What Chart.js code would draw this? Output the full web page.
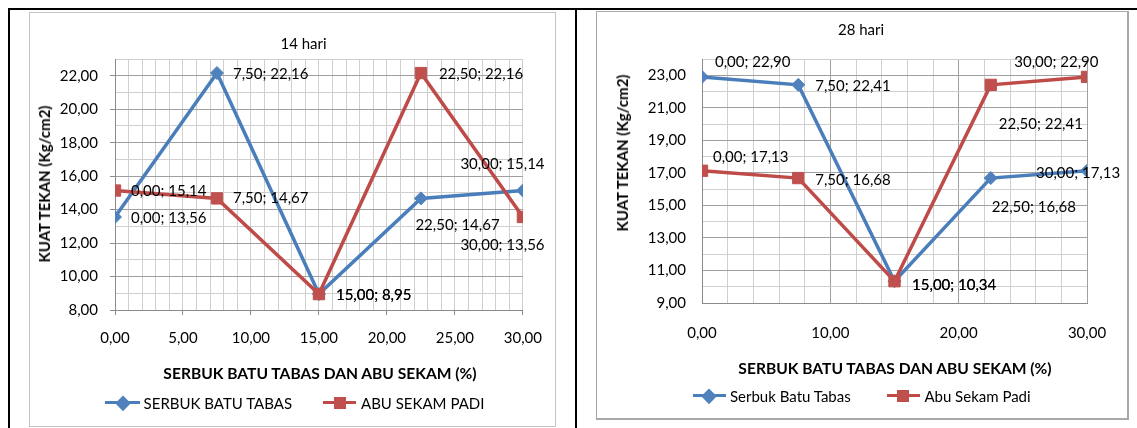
<!DOCTYPE html>
<html>
<head>
<meta charset="utf-8">
<script src="https://cdn.jsdelivr.net/npm/chart.js@4.4.1/dist/chart.umd.min.js"></script>
<style>
  html, body { margin: 0; padding: 0; background: #fff; }
  body { position: relative; width: 1137px; height: 428px; overflow: hidden; font-family: Lato, "Open Sans", sans-serif; color: #000; }
  .rule { position: absolute; background: #000; }
  .box { position: absolute; box-sizing: border-box; background: #fff; }
  canvas { position: absolute; }
  .txt { position: absolute; white-space: nowrap; font-size: 15px; line-height: 18px; transform: translate(-50%, -50%); }
  .bold { font-weight: bold; }
  .xtitle { font-size: 15.6px; }
  .rot { transform: translate(-50%, -50%) rotate(-90deg); }
  .leg-line { position: absolute; height: 3.5px; }
  .leg-text { position: absolute; white-space: nowrap; font-size: 15px; line-height: 18px; transform: translateY(-50%); }
  .diamond { position: absolute; width: 10.5px; height: 10.5px; transform: translate(-50%, -50%) rotate(45deg); }
  .square { position: absolute; width: 12px; height: 12px; transform: translate(-50%, -50%); }
</style>
</head>
<body>
<!-- table frame -->
<div class="rule" style="left:8px; top:8px; width:1129px; height:2px;"></div>
<div class="rule" style="left:8px; top:8px; width:2px; height:420px;"></div>
<div class="rule" style="left:575px; top:8px; width:2px; height:420px;"></div>

<!-- chart boxes -->
<div class="box" style="left:29px; top:12px; width:527px; height:415px; border:1px solid #c4c4c4;"></div>
<div class="box" style="left:596px; top:11px; width:533px; height:409px; border:1px solid #a8a8a8; border-right-width:2px; border-bottom-width:2px;"></div>

<canvas id="chart14" width="527" height="414" style="left:29px; top:12px;"></canvas>
<canvas id="chart28" width="531" height="407" style="left:597px; top:11px;"></canvas>

<!-- 14 hari texts -->
<div class="txt" style="left:303.5px; top:43px;">14 hari</div>
<div class="txt bold rot" style="left:44px; top:184px;">KUAT TEKAN (Kg/cm2)</div>
<div class="txt bold xtitle" style="left:320px; top:372.7px;">SERBUK BATU TABAS DAN ABU SEKAM (%)</div>
<div id="legend14"></div>

<!-- 28 hari texts -->
<div class="txt" style="left:861px; top:29.3px;">28 hari</div>
<div class="txt bold rot" style="left:622px; top:153px;">KUAT TEKAN (Kg/cm2)</div>
<div class="txt bold xtitle" style="left:895px; top:367.7px;">SERBUK BATU TABAS DAN ABU SEKAM (%)</div>
<div id="legend28"></div>

<script>
// Kadar bahan pengganti (%)
const PERSEN = [0, 7.5, 15, 22.5, 30];

// Kuat tekan umur 14 hari (Kg/cm2)
const BATU_14 = [13.56, 22.16, 8.95, 14.67, 15.14];
const SEKAM_14 = [15.14, 14.67, 8.95, 22.16, 13.56];

// Kuat tekan umur 28 hari (Kg/cm2)
const BATU_28 = [22.90, 22.41, 10.34, 16.68, 17.13];
const SEKAM_28 = [17.13, 16.68, 10.34, 22.41, 22.90];

// Labelled tick values
const X_LABELS_14 = [0, 5, 10, 15, 20, 25, 30];
const Y_LABELS_14 = [8, 10, 12, 14, 16, 18, 20, 22];
const X_LABELS_28 = [0, 10, 20, 30];
const Y_LABELS_28 = [9, 11, 13, 15, 17, 19, 21, 23];

const SERIES_NAMES_14 = ['SERBUK BATU TABAS', 'ABU SEKAM PADI'];
const SERIES_NAMES_28 = ['Serbuk Batu Tabas', 'Abu Sekam Padi'];

const BLUE = '#4F81BD', BLUE_LINE = '#4A7EBB';
const RED = '#C0504D', RED_LINE = '#BE4B48';
const GRID_MAJOR = '#a0a0a0', GRID_MINOR = '#cfcfcf', AXIS = '#8a8a8a';
const FONT = { family: 'Lato', size: 15 };

const fmt = v => Number(v).toFixed(2).replace('.', ',');
const has = (arr, v) => arr.some(a => Math.abs(a - v) < 1e-9);

// "x; y" value labels next to each point
const pointLabels = {
  id: 'pointLabels',
  afterDatasetsDraw(chart, args, opts) {
    const ctx = chart.ctx;
    ctx.save();
    ctx.font = '15px Lato';
    ctx.fillStyle = '#000';
    ctx.textAlign = 'left';
    ctx.textBaseline = 'middle';
    chart.data.datasets.forEach((ds, i) => {
      const meta = chart.getDatasetMeta(i);
      meta.data.forEach((pt, j) => {
        const d = ds.data[j];
        const o = opts.offsets[i][j];
        ctx.fillText(fmt(d.x) + '; ' + fmt(d.y), pt.x + o[0], pt.y + o[1]);
      });
    });
    ctx.restore();
  }
};

function makeChart(id, c) {
  return new Chart(document.getElementById(id), {
    type: 'scatter',
    data: {
      datasets: [
        {
          label: c.names[0],
          data: PERSEN.map((x, i) => ({ x, y: c.batu[i] })),
          showLine: true,
          borderColor: BLUE_LINE,
          borderWidth: 3.5,
          backgroundColor: BLUE,
          pointStyle: 'rectRot',
          pointRadius: 6.5,
          pointBorderWidth: 1,
          pointBorderColor: BLUE,
          order: 1
        },
        {
          label: c.names[1],
          data: PERSEN.map((x, i) => ({ x, y: c.sekam[i] })),
          showLine: true,
          borderColor: RED_LINE,
          borderWidth: 3.5,
          backgroundColor: RED,
          pointStyle: 'rect',
          pointRadius: 8,
          pointBorderWidth: 1,
          pointBorderColor: RED,
          order: 0
        }
      ]
    },
    options: {
      responsive: false,
      animation: false,
      events: [],
      layout: { padding: c.padding },
      plugins: {
        legend: { display: false },
        tooltip: { enabled: false },
        title: { display: false },
        pointLabels: { offsets: c.offsets }
      },
      scales: {
        x: {
          type: 'linear',
          min: c.xMin, max: c.xMax,
          afterFit: s => { s.height = c.xAxisHeight; },
          ticks: {
            stepSize: c.xStep, autoSkip: false, maxRotation: 0,
            padding: c.xPad, color: '#000', font: FONT,
            callback: v => has(c.xLabels, v) ? fmt(v) : ''
          },
          grid: {
            lineWidth: 1,
            drawTicks: true,
            tickLength: c.tickLen,
            color: ctx => (ctx.tick && c.xMajor(ctx.tick.value)) ? GRID_MAJOR : GRID_MINOR,
            tickColor: ctx => (c.tickLen > 0 && ctx.tick && has(c.xLabels, ctx.tick.value)) ? AXIS : 'rgba(0,0,0,0)'
          },
          border: { color: AXIS, width: 1 }
        },
        y: {
          type: 'linear',
          min: c.yMin, max: c.yMax,
          afterFit: s => { s.width = c.yAxisWidth; },
          ticks: {
            stepSize: 1, autoSkip: false,
            padding: c.yPad, color: '#000', font: FONT,
            callback: v => has(c.yLabels, v) ? fmt(v) : ''
          },
          grid: {
            lineWidth: 1,
            drawTicks: true,
            tickLength: c.tickLen,
            color: ctx => (ctx.tick && has(c.yLabels, ctx.tick.value)) ? GRID_MAJOR : GRID_MINOR,
            tickColor: ctx => (c.tickLen > 0 && ctx.tick && has(c.yLabels, ctx.tick.value)) ? AXIS : 'rgba(0,0,0,0)'
          },
          border: { color: AXIS, width: 1 }
        }
      }
    },
    plugins: [pointLabels]
  });
}

makeChart('chart14', {
  names: SERIES_NAMES_14, batu: BATU_14, sekam: SEKAM_14,
  xMin: 0, xMax: 30, xStep: 1, yMin: 8, yMax: 23,
  xLabels: X_LABELS_14, yLabels: Y_LABELS_14,
  xMajor: () => false,
  padding: { top: 47, right: 31, left: 0, bottom: 0 },
  yAxisWidth: 86, xAxisHeight: 116,
  tickLen: 5, xPad: 14, yPad: 12,
  offsets: [
    [[16, 1], [16, 1], [17, 1.5], [-5.5, 27], [-62.5, -26]],
    [[16, 1], [16, 0], [17, 1.5], [18, 1], [-62.5, 28]]
  ]
});

makeChart('chart28', {
  names: SERIES_NAMES_28, batu: BATU_28, sekam: SEKAM_28,
  xMin: 0, xMax: 30, xStep: 2, yMin: 9, yMax: 24,
  xLabels: X_LABELS_28, yLabels: Y_LABELS_28,
  xMajor: v => has(X_LABELS_28, v),
  padding: { top: 48, right: 41, left: 0, bottom: 0 },
  yAxisWidth: 105, xAxisHeight: 115,
  tickLen: 0, xPad: 21, yPad: 16,
  offsets: [
    [[13, -15], [17, 1.5], [17.6, 3.5], [1, 29], [-51, 2]],
    [[11, -14], [17, 2], [17.6, 3.5], [8, 39.5], [-72.7, -15]]
  ]
});

// Legends: line with series marker, then series name
function legend(hostId, y, items) {
  const host = document.getElementById(hostId);
  items.forEach(it => {
    const line = document.createElement('div');
    line.className = 'leg-line';
    line.style.left = it.x1 + 'px';
    line.style.width = (it.x2 - it.x1) + 'px';
    line.style.top = (y - 1.75) + 'px';
    line.style.background = it.line;
    host.appendChild(line);
    const mk = document.createElement('div');
    mk.className = it.shape;
    mk.style.left = it.mx + 'px';
    mk.style.top = y + 'px';
    mk.style.background = it.fill;
    host.appendChild(mk);
    const tx = document.createElement('div');
    tx.className = 'leg-text';
    tx.style.left = it.tx + 'px';
    tx.style.top = y + 'px';
    tx.textContent = it.name;
    host.appendChild(tx);
  });
}

legend('legend14', 402.7, [
  { name: SERIES_NAMES_14[0], x1: 105, x2: 140, mx: 122.5, tx: 143.6, line: BLUE_LINE, fill: BLUE, shape: 'diamond' },
  { name: SERIES_NAMES_14[1], x1: 323, x2: 356, mx: 340, tx: 361, line: RED_LINE, fill: RED, shape: 'square' }
]);
legend('legend28', 395.7, [
  { name: SERIES_NAMES_28[0], x1: 693, x2: 725.5, mx: 709, tx: 730, line: BLUE_LINE, fill: BLUE, shape: 'diamond' },
  { name: SERIES_NAMES_28[1], x1: 886.8, x2: 920, mx: 903.4, tx: 924.4, line: RED_LINE, fill: RED, shape: 'square' }
]);
</script>
</body>
</html>
